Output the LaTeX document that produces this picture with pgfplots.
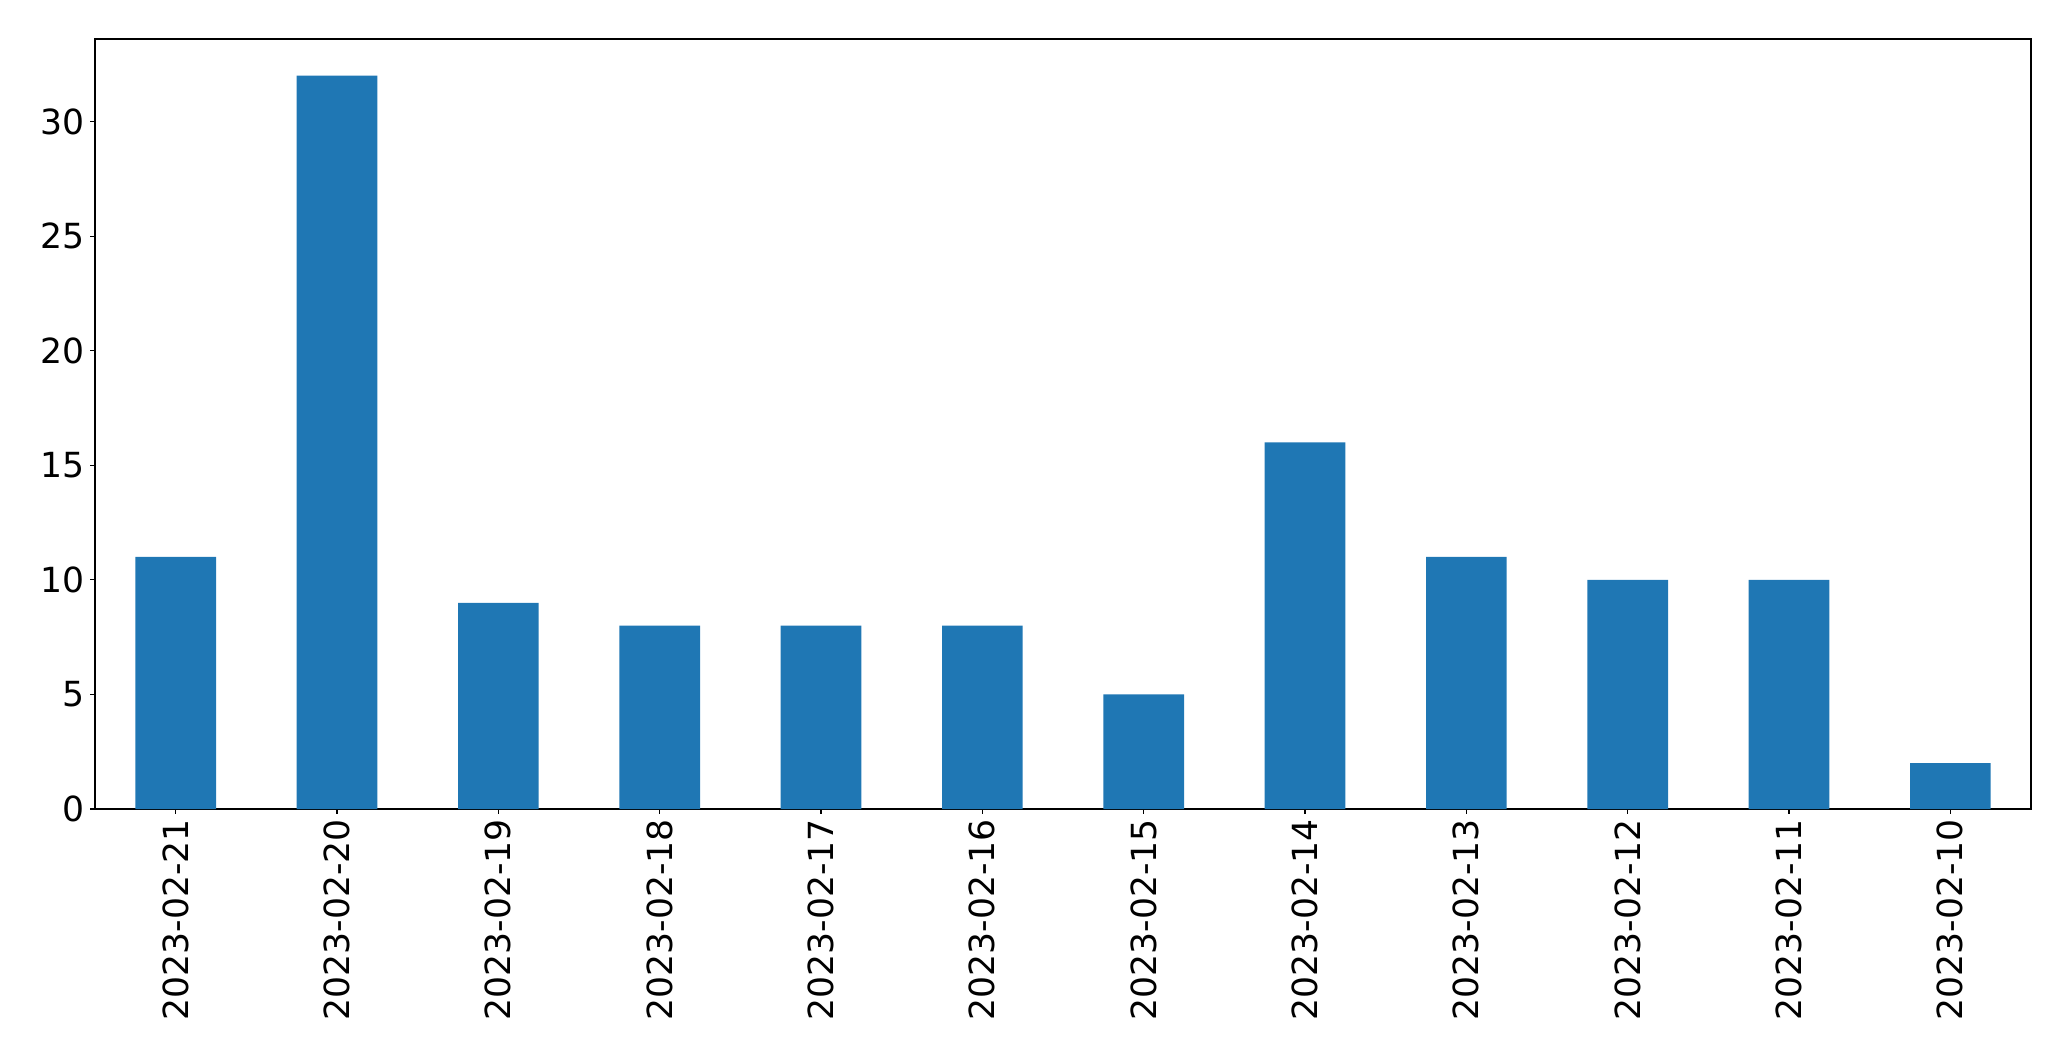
\documentclass[border=0pt]{standalone}
\usepackage{pgfplots}
\pgfplotsset{compat=1.18}
\usepackage{fontspec}
\setmainfont{DejaVu Sans}
\definecolor{mplblue}{HTML}{1F77B4}
\begin{document}
\fontsize{25}{30}\selectfont
\begin{tikzpicture}
\begin{axis}[
  scale only axis,
  width=1399.2pt, height=556.5pt,
  xmin=-0.5, xmax=11.5,
  ymin=0, ymax=33.6,
  ytick={0,5,10,15,20,25,30},
  xtick={0,1,2,3,4,5,6,7,8,9,10,11},
  xticklabels={2023-02-21,2023-02-20,2023-02-19,2023-02-18,2023-02-17,2023-02-16,2023-02-15,2023-02-14,2023-02-13,2023-02-12,2023-02-11,2023-02-10},
  xticklabel style={rotate=90, anchor=east, font=\fontsize{25}{30}\selectfont},
  yticklabel style={font=\fontsize{25}{30}\selectfont},
  /pgf/number format/assume math mode=true,
  tick align=outside,
  tick pos=left,
  major tick length=3.5pt,
  every tick/.style={line width=0.8pt, black},
  axis line style={line width=0.8pt},
  xtick style={line width=0.8pt},
  ytick style={line width=0.8pt},
  tick label style={inner sep=0pt, outer sep=4pt},
]
\addplot[ybar, bar width=0.5, fill=mplblue, draw=none] coordinates {
 (0,11) (1,32) (2,9) (3,8) (4,8) (5,8) (6,5) (7,16) (8,11) (9,10) (10,10) (11,2)
};
\end{axis}
\path ([xshift=-68.66pt,yshift=-182.1pt]current axis.south west) rectangle ([xshift=28.9pt,yshift=28.2pt]current axis.north east);
\end{tikzpicture}
\end{document}
